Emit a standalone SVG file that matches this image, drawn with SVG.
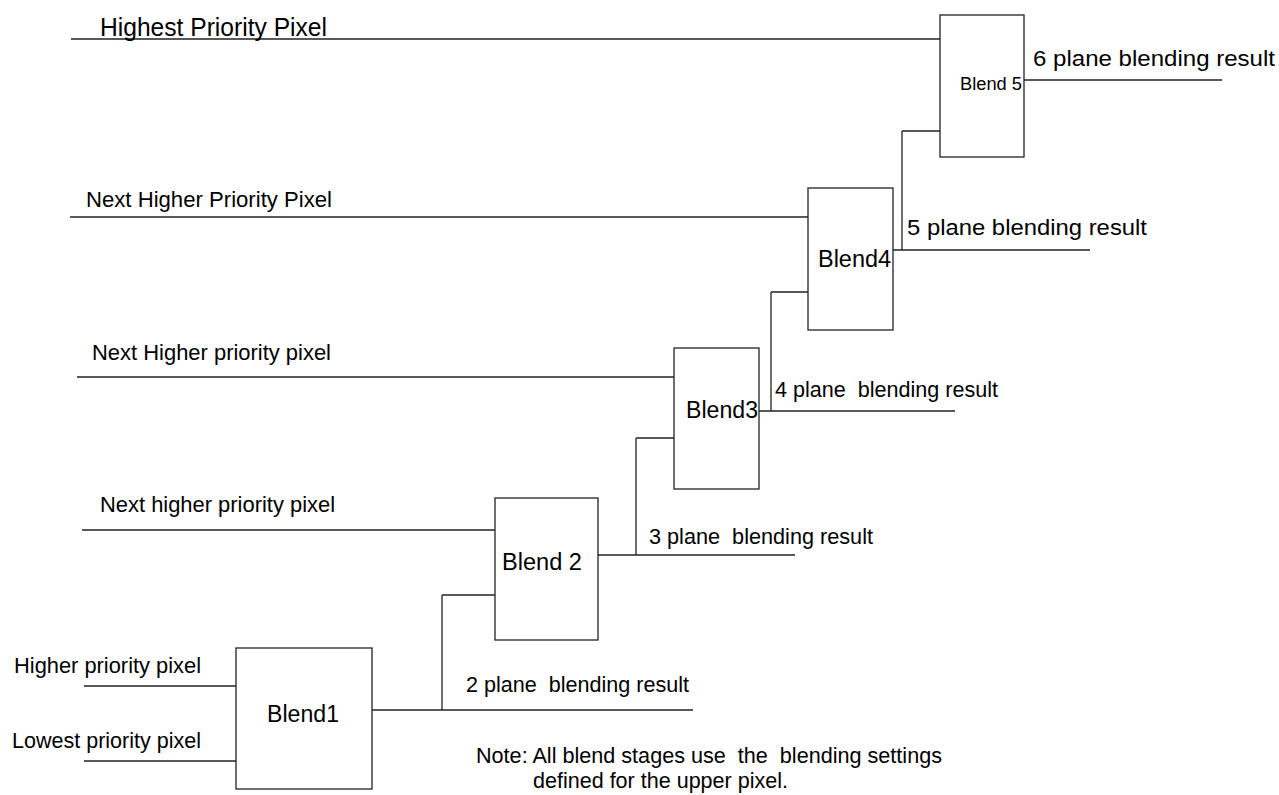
<svg xmlns="http://www.w3.org/2000/svg" width="1279" height="795" viewBox="0 0 1279 795">
<style>
.box{fill:#fff;stroke:#222;stroke-width:1.3}
.ln{fill:none;stroke:#222;stroke-width:1.3}
text{font-family:"Liberation Sans",Arial,sans-serif;fill:#000;white-space:pre}
.lbl{font-size:22px}
.bl{font-size:23px}
</style>
<rect width="1279" height="795" fill="#fff"/>
<g id="connectors">
<path class="ln" d="M71 39H940"/>
<path class="ln" d="M1024 80H1222"/>
<path class="ln" d="M902 131H940M902 131V250"/>
<path class="ln" d="M70 217H808"/>
<path class="ln" d="M893 250H1090"/>
<path class="ln" d="M771 292H808M771 292V411"/>
<path class="ln" d="M77 377H674"/>
<path class="ln" d="M759 411H955"/>
<path class="ln" d="M636 438H674M636 438V555"/>
<path class="ln" d="M82 530H495"/>
<path class="ln" d="M598 555H795"/>
<path class="ln" d="M442 595H495M442 595V710"/>
<path class="ln" d="M84 686H236"/>
<path class="ln" d="M84 761H236"/>
<path class="ln" d="M372 710H693"/>
</g>
<g id="blend5">
<rect class="box" x="940" y="15" width="84" height="142"/>
<text x="960" y="90" font-size="18" textLength="62" lengthAdjust="spacingAndGlyphs">Blend 5</text>
</g>
<g id="blend4">
<rect class="box" x="808" y="188" width="85" height="142"/>
<text class="bl" x="818" y="267" textLength="73" lengthAdjust="spacingAndGlyphs">Blend4</text>
</g>
<g id="blend3">
<rect class="box" x="674" y="348" width="85" height="141"/>
<text class="bl" x="686" y="418" textLength="72" lengthAdjust="spacingAndGlyphs">Blend3</text>
</g>
<g id="blend2">
<rect class="box" x="495" y="498" width="103" height="142"/>
<text class="bl" x="502" y="570" textLength="80" lengthAdjust="spacingAndGlyphs">Blend 2</text>
</g>
<g id="blend1">
<rect class="box" x="236" y="648" width="136" height="141"/>
<text class="bl" x="267" y="722" textLength="72" lengthAdjust="spacingAndGlyphs">Blend1</text>
</g>
<g id="labels">
<text x="100" y="36" font-size="25" textLength="227" lengthAdjust="spacingAndGlyphs">Highest Priority Pixel</text>
<text class="lbl" x="86" y="207" textLength="246" lengthAdjust="spacingAndGlyphs">Next Higher Priority Pixel</text>
<text class="lbl" x="92" y="360" textLength="239" lengthAdjust="spacingAndGlyphs">Next Higher priority pixel</text>
<text class="lbl" x="100" y="512" textLength="235" lengthAdjust="spacingAndGlyphs">Next higher priority pixel</text>
<text class="lbl" x="14" y="673" textLength="187" lengthAdjust="spacingAndGlyphs">Higher priority pixel</text>
<text class="lbl" x="12" y="748" textLength="189" lengthAdjust="spacingAndGlyphs">Lowest priority pixel</text>
<text class="lbl" x="1033" y="66" textLength="242" lengthAdjust="spacingAndGlyphs">6 plane blending result</text>
<text class="lbl" x="907" y="235" textLength="240" lengthAdjust="spacingAndGlyphs">5 plane blending result</text>
<text class="lbl" x="775" y="397" textLength="223" lengthAdjust="spacingAndGlyphs">4 plane  blending result</text>
<text class="lbl" x="649" y="544" textLength="224" lengthAdjust="spacingAndGlyphs">3 plane  blending result</text>
<text class="lbl" x="466" y="692" textLength="223" lengthAdjust="spacingAndGlyphs">2 plane  blending result</text>
<text class="lbl" x="476" y="763" textLength="466" lengthAdjust="spacingAndGlyphs">Note: All blend stages use  the  blending settings</text>
<text class="lbl" x="533" y="788" textLength="255" lengthAdjust="spacingAndGlyphs">defined for the upper pixel.</text>
</g>
</svg>
